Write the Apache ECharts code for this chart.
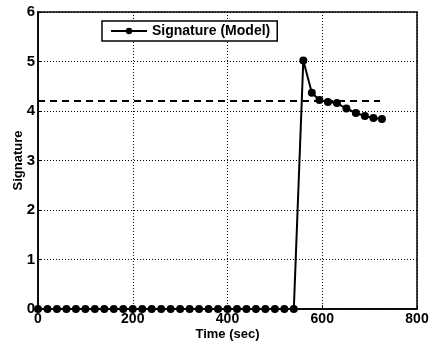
<!DOCTYPE html>
<html>
<head>
<meta charset="utf-8">
<script src="https://cdn.jsdelivr.net/npm/echarts@6/dist/echarts.min.js"></script>
<style>
  html, body { margin: 0; padding: 0; background: #fff; }
  #chart { width: 430px; height: 349px; }
</style>
</head>
<body>
<div id="chart"></div>
<script>
// Model signature over time
const timeSec = [0, 20, 40, 60, 80, 100, 120, 140, 160, 180, 200, 220, 240, 260, 280,
  300, 320, 340, 360, 380, 400, 420, 440, 460, 480, 500, 520, 540,
  560, 578, 594, 612, 631, 651, 671, 690, 708, 726];
const signature = [0, 0, 0, 0, 0, 0, 0, 0, 0, 0, 0, 0, 0, 0, 0,
  0, 0, 0, 0, 0, 0, 0, 0, 0, 0, 0, 0, 0,
  5.02, 4.37, 4.22, 4.18, 4.16, 4.05, 3.96, 3.90, 3.86, 3.84];
// Horizontal reference level
const refTime = [0, 722];
const refLevel = [4.2, 4.2];

const xTicks = [0, 200, 400, 600, 800];
const yTicks = [0, 1, 2, 3, 4, 5, 6];

const fontFamily = '"Liberation Sans", Arial, sans-serif';
const chart = echarts.init(document.getElementById('chart'));

chart.setOption({
  animation: false,
  backgroundColor: '#fff',
  textStyle: { fontFamily: fontFamily },
  grid: {
    left: 38, right: 13, top: 12, bottom: 40,
    outerBoundsMode: 'none',
    containLabel: false,
    show: true, borderColor: '#000', borderWidth: 1.5, backgroundColor: 'transparent'
  },
  legend: {
    left: 102, top: 21,
    orient: 'horizontal',
    data: ['Signature (Model)'],
    backgroundColor: '#fff',
    borderColor: '#000', borderWidth: 1.5, borderRadius: 0,
    padding: [3, 7, 3, 8],
    itemWidth: 36, itemHeight: 8, itemGap: 6,
    textStyle: { fontFamily: fontFamily, fontWeight: 'bold', fontSize: 14, color: '#000' }
  },
  xAxis: {
    type: 'value',
    min: xTicks[0], max: xTicks[xTicks.length - 1], interval: 200,
    name: 'Time (sec)', nameLocation: 'middle', nameGap: 19, nameMoveOverlap: false,
    nameTextStyle: { fontFamily: fontFamily, fontWeight: 'bold', fontSize: 13, color: '#000' },
    axisLine: { show: true, lineStyle: { color: '#000', width: 1.5 } },
    axisTick: { show: true, inside: true, length: 4, lineStyle: { color: '#000' } },
    axisLabel: { fontFamily: fontFamily, fontWeight: 'bold', fontSize: 14, color: '#000', margin: 3 },
    splitLine: { show: true, lineStyle: { color: '#000', type: [1, 2], width: 1 } }
  },
  yAxis: {
    type: 'value',
    min: yTicks[0], max: yTicks[yTicks.length - 1], interval: 1,
    name: 'Signature', nameLocation: 'middle', nameGap: 13, nameRotate: 90, nameMoveOverlap: false,
    nameTextStyle: { fontFamily: fontFamily, fontWeight: 'bold', fontSize: 13, color: '#000' },
    axisLine: { show: true, lineStyle: { color: '#000', width: 1.5 } },
    axisTick: { show: true, inside: true, length: 4, lineStyle: { color: '#000' } },
    axisLabel: { fontFamily: fontFamily, fontWeight: 'bold', fontSize: 15, color: '#000', margin: 3 },
    splitLine: { show: true, lineStyle: { color: '#000', type: [1, 2], width: 1 } }
  },
  series: [
    {
      name: 'Signature (Model)',
      type: 'line',
      data: timeSec.map((t, i) => [t, signature[i]]),
      symbol: 'circle', symbolSize: 8,
      itemStyle: { color: '#000' },
      lineStyle: { color: '#000', width: 2 },
      z: 3
    },
    {
      name: 'Reference',
      type: 'line',
      data: refTime.map((t, i) => [t, refLevel[i]]),
      symbol: 'none',
      lineStyle: { color: '#000', width: 2, type: [7, 5] },
      z: 2
    }
  ]
});
</script>
</body>
</html>
